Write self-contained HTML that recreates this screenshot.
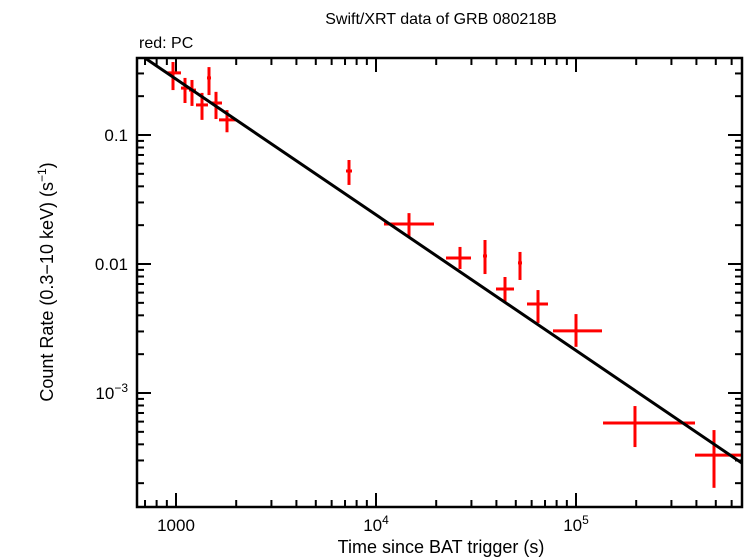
<!DOCTYPE html>
<html><head><meta charset="utf-8"><style>
html,body{margin:0;padding:0;background:#fff;width:746px;height:558px;overflow:hidden}
svg{display:block}
text{font-family:"Liberation Sans",sans-serif;fill:#000}
</style></head><body>
<svg id="chart" width="746" height="558"></svg>
<script>
const times=[966,1109,1202,1349,1462,1585,1799,7328,14620,26300,35080,52480,44160,64570,100000,197200,489800];
const timeLo=[902,1059,1161,1259,1429,1496,1641,7079,10960,22390,34280,51290,39810,56890,76740,136500,393600];
const timeHi=[1059,1175,1259,1445,1496,1698,1995,7586,19500,29850,35890,53700,48980,72440,134900,393600,676100];
const rates=[0.303,0.231,0.223,0.171,0.277,0.177,0.131,0.0526,0.0204,0.01114,0.01154,0.0102,0.0064,0.0049,0.00303,0.000585,0.00033];
const rateHi=[0.368,0.277,0.267,0.212,0.336,0.216,0.156,0.064,0.0248,0.01356,0.01535,0.0124,0.00793,0.00628,0.00409,0.000792,0.000516];
const rateLo=[0.223,0.177,0.168,0.131,0.204,0.133,0.105,0.041,0.0159,0.00914,0.00836,0.00752,0.00507,0.00349,0.00228,0.000381,0.000184];
const modelNorm=0.381, modelT0=724, modelIndex=1.052;
const xTicks=[1000,10000,100000];
const xTickLabels=[["1000",""],["10","4"],["10","5"]];
const yTicks=[0.1,0.01,0.001];
const yTickLabels=[["0.1",""],["0.01",""],["10","\u22123"]];

const L=137,R=742,T=58,B=507;
const X=v=>176+(Math.log10(v)-3)*200;
const Y=v=>135-(Math.log10(v)+1)*129;
const xMin=Math.pow(10,3+(L-176)/200), xMax=Math.pow(10,3+(R-176)/200);
const yMin=Math.pow(10,-1-(B-135)/129), yMax=Math.pow(10,-1-(T-135)/129);
const svg=document.getElementById('chart');
const NS='http://www.w3.org/2000/svg';
function mk(tag,a,parent){const e=document.createElementNS(NS,tag);for(const k in a)e.setAttribute(k,a[k]);(parent||svg).appendChild(e);return e;}

let t=mk('text',{x:441,y:24,'font-size':16,'text-anchor':'middle'});t.textContent='Swift/XRT data of GRB 080218B';

t=mk('text',{x:139,y:48,'font-size':16});t.textContent='red: PC';


const defs=mk('defs',{});const cp=mk('clipPath',{id:'pc'},defs);mk('rect',{x:L,y:T,width:R-L,height:B-T},cp);

const tg=mk('g',{stroke:'#000','stroke-width':2});

for(let d=2;d<=5;d++)for(let m=1;m<10;m++){const v=m*Math.pow(10,d);if(v<xMin||v>xMax)continue;const x=X(v);const len=m==1?14:7;
mk('line',{x1:x,y1:B,x2:x,y2:B-len},tg);mk('line',{x1:x,y1:T,x2:x,y2:T+len},tg);}
for(let d=-5;d<=0;d++)for(let m=1;m<10;m++){const v=m*Math.pow(10,d);if(v<yMin||v>yMax)continue;const y=Y(v);const len=m==1?14:7;
mk('line',{x1:L,y1:y,x2:L+len,y2:y},tg);mk('line',{x1:R,y1:y,x2:R-len,y2:y},tg);}

xTicks.forEach((v,i)=>{const e=mk('text',{x:X(v),y:531,'font-size':17,'text-anchor':'middle'});
e.textContent=xTickLabels[i][0];if(xTickLabels[i][1]){const s=mk('tspan',{'font-size':12,dy:-7},e);s.textContent=xTickLabels[i][1];}
});
yTicks.forEach((v,i)=>{const e=mk('text',{x:128,y:Y(v)+6,'font-size':17,'text-anchor':'end'});
e.textContent=yTickLabels[i][0];if(yTickLabels[i][1]){const s=mk('tspan',{'font-size':12,dy:-7},e);s.textContent=yTickLabels[i][1];}
});

t=mk('text',{x:441,y:553,'font-size':18,'text-anchor':'middle'});t.textContent='Time since BAT trigger (s)';

t=mk('text',{transform:'translate(53,282) rotate(-90)','font-size':18,'text-anchor':'middle'});
t.textContent='Count Rate (0.3\u221210 keV) (s';const sp=mk('tspan',{'font-size':12,dy:-7},t);sp.textContent='\u22121';const sp2=mk('tspan',{'font-size':18,dy:7},t);sp2.textContent=')';


const dg=mk('g',{stroke:'#ff0000','stroke-width':3,'clip-path':'url(#pc)'});

times.forEach((v,i)=>{const g=mk('g',{},dg);

mk('line',{x1:X(timeLo[i]),y1:Y(rates[i]),x2:X(timeHi[i]),y2:Y(rates[i])},g);
mk('line',{x1:X(v),y1:Y(rateHi[i]),x2:X(v),y2:Y(rateLo[i])},g);});

const p1=xMin,p2=xMax,f=v=>modelNorm*Math.pow(v/modelT0,-modelIndex);
const ml=mk('line',{x1:X(p1),y1:Y(f(p1)),x2:X(p2),y2:Y(f(p2)),stroke:'#000','stroke-width':3,'clip-path':'url(#pc)'});


const fr=mk('rect',{x:L,y:T,width:R-L,height:B-T,fill:'none',stroke:'#000','stroke-width':2.5});

</script>
</body></html>
